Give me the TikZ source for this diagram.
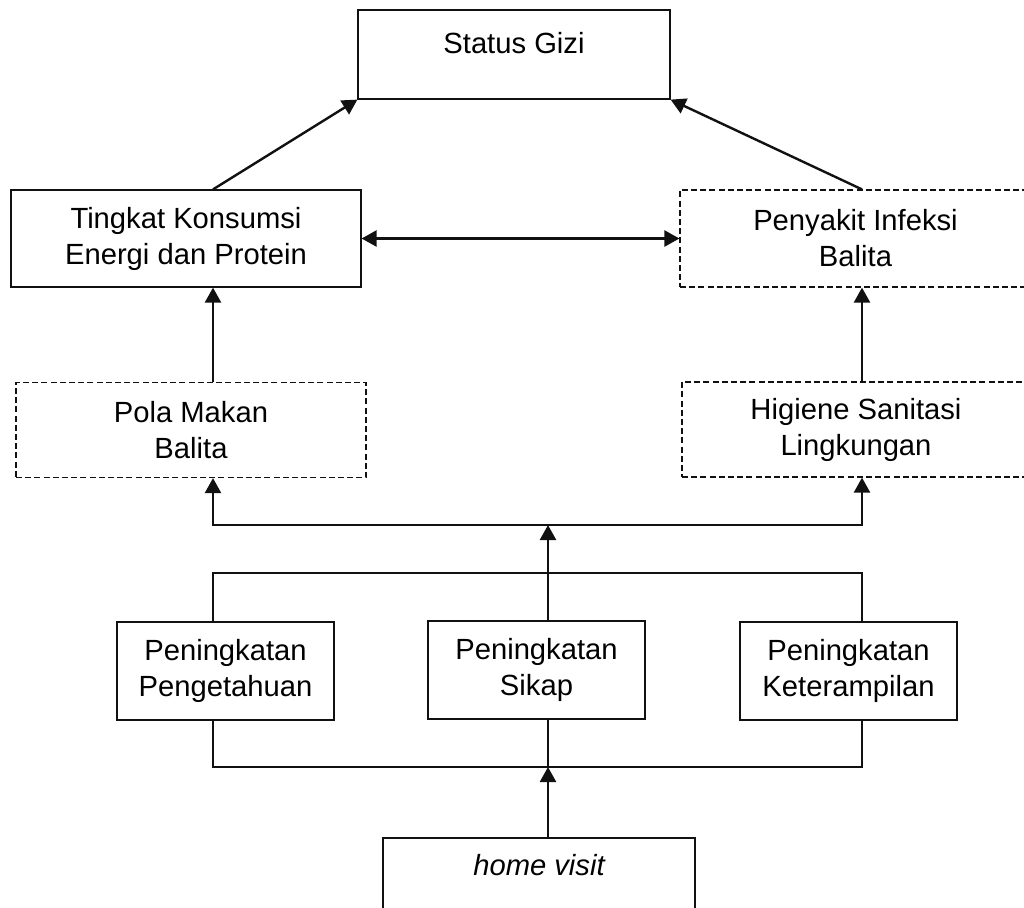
\documentclass[tikz,border=0pt]{standalone}
\usepackage{fontspec}
\setmainfont{Liberation Sans}
\usepackage{tikz}
\usetikzlibrary{arrows.meta,positioning}
\definecolor{ink}{HTML}{111111}
\tikzset{
  box/.style={draw=ink,line width=0.6pt,align=center,inner sep=0pt,font=\fontsize{14.6}{18}\selectfont},
  ext/.style={box,dash pattern=on 3pt off 1.6pt},
  headbox/.style={box,text height=11pt,text depth=12.5pt},
  footbox/.style={box,text height=11pt,text depth=18.5pt},
  flow/.style={-{Triangle[length=7.5pt,width=8pt]},line width=1.2pt,draw=ink},
  bflow/.style={{Triangle[length=7.5pt,width=8pt]}-{Triangle[length=7.5pt,width=8pt]},line width=1.2pt,draw=ink},
  link/.style={line width=0.6pt,draw=ink}
}
\begin{document}
\begin{tikzpicture}[x=0.5pt,y=-0.5pt]
  \useasboundingbox (0,0) rectangle (1024,907);
  \clip (0,0) rectangle (1024,907);
  % outcome
  \node[headbox, minimum width=156pt, minimum height=44.5pt] (gizi) at (514,54.5) {Status Gizi};
  % direct causes
  \node[box, minimum width=175pt, minimum height=48.5pt] (konsumsi) at (186,238.5) {Tingkat Konsumsi\\Energi dan Protein};
  \node[ext, minimum width=175.5pt, minimum height=48.5pt] (infeksi) at (855.5,238.5) {Penyakit Infeksi\\Balita};
  % indirect causes
  \node[ext, minimum width=175pt, minimum height=47.5pt] (pola) at (191,430) {Pola Makan\\Balita};
  \node[ext, minimum width=174pt, minimum height=47.5pt] (higiene) at (856,429.5) {Higiene Sanitasi\\Lingkungan};
  % effects of the visit
  \node[box, minimum width=108.5pt, minimum height=49pt] (pengetahuan) at (225.5,671) {Peningkatan\\Pengetahuan};
  \node[box, minimum width=108.5pt, minimum height=49pt] (sikap) at (536.5,670) {Peningkatan\\Sikap};
  \node[box, minimum width=108.5pt, minimum height=49pt] (keterampilan) at (848.5,671) {Peningkatan\\Keterampilan};
  \node[footbox, minimum width=156pt, minimum height=44.5pt] (home) at (539,882.5) {\itshape home visit};
  % junction points
  \coordinate (splitL) at (213,525); \coordinate (splitR) at (862,525); \coordinate (splitM) at (548,525);
  \coordinate (joinM) at (548,573); \coordinate (homeM) at (548,767);
  % connectors
  \draw[flow] (konsumsi.north -| splitL) -- (gizi.south west);
  \draw[flow] (infeksi.north -| splitR) -- (gizi.south east);
  \draw[bflow] (konsumsi) -- (infeksi);
  \draw[flow] (pola.north -| splitL) -- (konsumsi.south -| splitL);
  \draw[flow] (higiene.north -| splitR) -- (infeksi.south -| splitR);
  \draw[flow] (splitM) -| (pola.south -| splitL);
  \draw[flow] (splitM) -| (higiene.south -| splitR);
  \draw[flow] (joinM) -- (splitM);
  \draw[link] (pengetahuan.north -| splitL) |- (joinM) -| (keterampilan.north -| splitR);
  \draw[link] (sikap.north -| joinM) -- (joinM);
  \draw[link] (pengetahuan.south -| splitL) |- (homeM) -| (keterampilan.south -| splitR);
  \draw[link] (sikap.south -| homeM) -- (homeM);
  \draw[flow] (home.north -| homeM) -- (homeM);
\end{tikzpicture}
\end{document}
